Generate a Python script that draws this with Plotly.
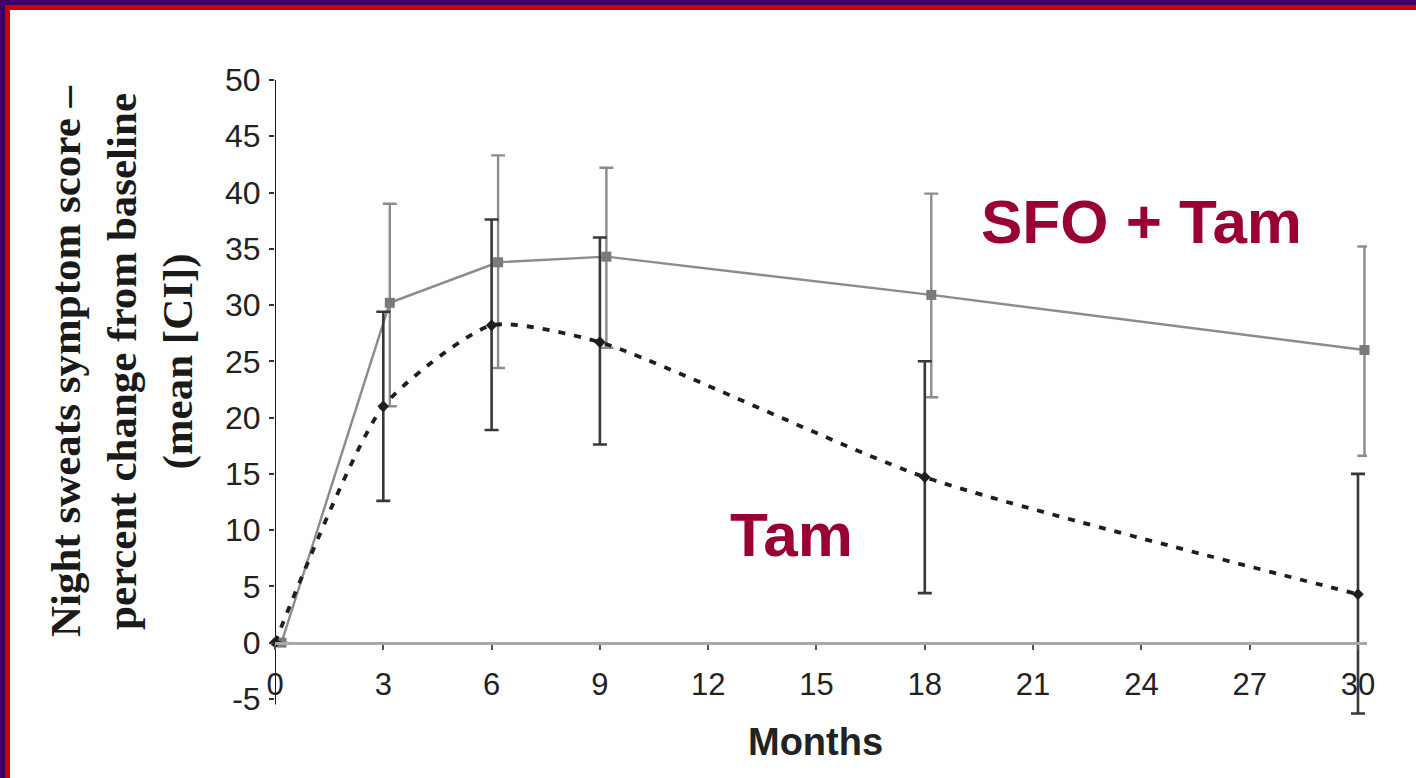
import plotly.graph_objects as go

# ---- data ----
months = [0, 3, 6, 9, 18, 30]
sfo_mean = [0, 30.2, 33.8, 34.3, 30.9, 26.0]
sfo_upper = [0, 39.0, 43.3, 42.2, 39.9, 35.2]
sfo_lower = [0, 21.0, 24.4, 26.2, 21.8, 16.6]
tam_mean = [0, 21.0, 28.2, 26.7, 14.7, 4.3]
tam_upper = [0, 29.4, 37.6, 36.0, 25.0, 15.0]
tam_lower = [0, 12.6, 18.9, 17.6, 4.4, -6.3]
x_ticks = [0, 3, 6, 9, 12, 15, 18, 21, 24, 27, 30]
y_ticks = [-5, 0, 5, 10, 15, 20, 25, 30, 35, 40, 45, 50]

W, H = 1416, 778
Y_MIN, Y_MAX = -6.7, 50
L, R, T, B = 275, 49, 80, 60
PW, PH = W - L - R, H - T - B
SFO_SHIFT = 0.18


def px_x(p):
    return (p - L) / PW


def px_y(p):
    return (H - B - p) / PH


fig = go.Figure()

fig.add_trace(go.Scatter(
    x=[m + SFO_SHIFT for m in months], y=sfo_mean, mode="lines+markers",
    line=dict(color="#8c8c8c", width=2.4),
    marker=dict(symbol="square", size=10, color="#7a7a7a"),
    error_y=dict(type="data", symmetric=False,
                 array=[u - m for u, m in zip(sfo_upper, sfo_mean)],
                 arrayminus=[m - l for m, l in zip(sfo_mean, sfo_lower)],
                 color="#8c8c8c", thickness=2.4, width=7),
    cliponaxis=False, showlegend=False,
))

fig.add_trace(go.Scatter(
    x=months, y=tam_mean, mode="lines+markers",
    line=dict(color="#1e1e1e", width=3.8, dash="7px,9px", shape="spline", smoothing=0.6),
    marker=dict(symbol="diamond", size=9, color="#1e1e1e"),
    error_y=dict(type="data", symmetric=False,
                 array=[u - m for u, m in zip(tam_upper, tam_mean)],
                 arrayminus=[m - l for m, l in zip(tam_mean, tam_lower)],
                 color="#383838", thickness=2.6, width=7),
    cliponaxis=False, showlegend=False,
))

fig.update_layout(
    width=W, height=H,
    margin=dict(l=L, r=R, t=T, b=B),
    paper_bgcolor="white", plot_bgcolor="white",
    xaxis=dict(range=[0, 30.25], tickvals=x_ticks, ticktext=[str(v) for v in x_ticks],
               showgrid=False, zeroline=False, showline=True, linecolor="#a8a8a8", linewidth=3,
               ticks="outside", ticklen=5, tickwidth=2, tickcolor="#555",
               anchor="free", position=(0 - Y_MIN) / (Y_MAX - Y_MIN), ticklabelstandoff=8,
               tickfont=dict(family="Liberation Sans, Arial", size=31, color="#222")),
    yaxis=dict(range=[Y_MIN, Y_MAX], tickvals=y_ticks, ticktext=[str(v) for v in y_ticks],
               showgrid=False, zeroline=False, showline=False,
               ticks="outside", ticklen=5, tickwidth=1.5, tickcolor="#333",
               ticklabelstandoff=2,
               tickfont=dict(family="Liberation Sans, Arial", size=32, color="#222")),
    annotations=[
        dict(text="<b>Night sweats symptom score –<br>percent change from baseline<br>(mean [CI])</b>",
             xref="paper", yref="paper", x=px_x(122), y=px_y(362), textangle=-90,
             showarrow=False, xanchor="center", yanchor="middle",
             font=dict(family="Liberation Serif, Times New Roman", size=43, color="#1a1a1a")),
        dict(text="<b>Months</b>", xref="paper", yref="paper", x=px_x(815), y=px_y(742),
             showarrow=False, xanchor="center", yanchor="middle",
             font=dict(family="Liberation Sans, Arial", size=38, color="#222")),
        dict(text="<b>SFO + Tam</b>", xref="x", yref="y", x=24.0, y=37.4,
             showarrow=False, xanchor="center", yanchor="middle",
             font=dict(family="Liberation Sans, Arial", size=62, color="#990033")),
        dict(text="<b>Tam</b>", xref="x", yref="y", x=14.3, y=9.6,
             showarrow=False, xanchor="center", yanchor="middle",
             font=dict(family="Liberation Sans, Arial", size=62, color="#990033")),
    ],
    shapes=[
        # y axis line (from -5.5 to 50)
        dict(type="line", xref="x", yref="y", x0=0, x1=0, y0=-5.5, y1=Y_MAX,
             line=dict(color="#1a1a1a", width=2), layer="below"),
        dict(type="rect", xref="paper", yref="paper", x0=px_x(0), x1=px_x(W), y0=px_y(0), y1=px_y(5),
             fillcolor="#3d0066", line=dict(width=0), layer="above"),
        dict(type="rect", xref="paper", yref="paper", x0=px_x(5), x1=px_x(W), y0=px_y(5), y1=px_y(10),
             fillcolor="#cc0000", line=dict(width=0), layer="above"),
        dict(type="rect", xref="paper", yref="paper", x0=px_x(0), x1=px_x(5), y0=px_y(0), y1=px_y(H),
             fillcolor="#3d0066", line=dict(width=0), layer="above"),
        dict(type="rect", xref="paper", yref="paper", x0=px_x(5), x1=px_x(10), y0=px_y(5), y1=px_y(H),
             fillcolor="#cc0000", line=dict(width=0), layer="above"),
    ],
)

fig.write_html("out.html")
